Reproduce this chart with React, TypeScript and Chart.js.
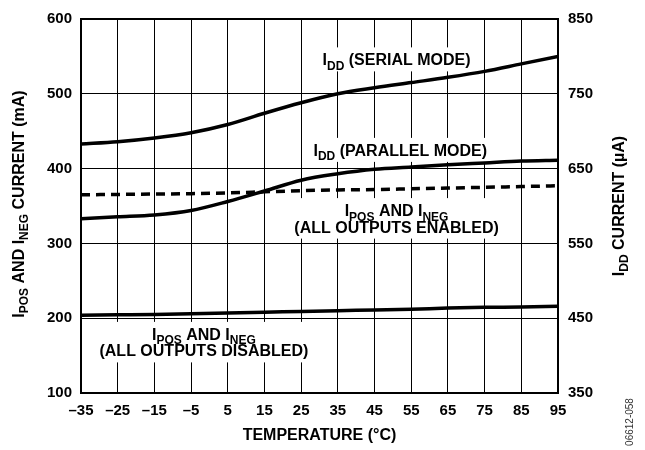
import React, { useEffect, useRef } from "react";
import { Chart, registerables } from "chart.js";
Chart.register(...registerables);

const temperatures = [-35, -25, -15, -5, 5, 15, 25, 35, 45, 55, 65, 75, 85, 95];
// µA, right axis
const iddSerial = [683, 686, 691, 698, 709, 724, 738, 750, 758, 765, 772, 780, 790, 800];
const iddParallel = [583, 585.5, 588, 594, 606, 620, 634.5, 643, 649, 652, 655, 657.5, 660, 661];
// mA, left axis
const iposEnabled = [365, 365.5, 366, 366.5, 367.5, 369, 370.5, 371.5, 372, 373, 374, 375, 376, 377];
const iposDisabled = [204, 204.5, 205, 206, 207, 208, 209, 210, 211, 212, 213.5, 214.5, 215, 216];

const FONT = '"Liberation Sans", Arial, Helvetica, sans-serif';

type Part = [string, boolean];

function richWidth(ctx: CanvasRenderingContext2D, parts: Part[], size: number) {
  let w = 0;
  for (const [t, sub] of parts) {
    ctx.font = `bold ${sub ? size * 0.75 : size}px ${FONT}`;
    w += ctx.measureText(t).width;
  }
  return w;
}

function drawRich(ctx: CanvasRenderingContext2D, parts: Part[], cx: number, baseline: number, size: number) {
  const w = richWidth(ctx, parts, size);
  let x = cx - w / 2;
  ctx.textAlign = "left";
  ctx.textBaseline = "alphabetic";
  for (const [t, sub] of parts) {
    ctx.font = `bold ${sub ? size * 0.75 : size}px ${FONT}`;
    ctx.fillText(t, x, sub ? baseline + size * 0.28 : baseline);
    x += ctx.measureText(t).width;
  }
}

type Label = { t: number; v: number; lines: Part[][] };
const ANN_SIZE = 16;
const LINE_GAP = 16.5;
const labels: Label[] = [
  { t: 51, v: 538, lines: [[["I", false], ["DD", true], [" (SERIAL MODE)", false]]] },
  { t: 52, v: 417, lines: [[["I", false], ["DD", true], [" (PARALLEL MODE)", false]]] },
  {
    t: 51,
    v: 336.5,
    lines: [
      [["I", false], ["POS", true], [" AND I", false], ["NEG", true]],
      [["(ALL OUTPUTS ENABLED)", false]],
    ],
  },
  {
    t: -1.5,
    v: 171,
    lines: [
      [["I", false], ["POS", true], [" AND I", false], ["NEG", true]],
      [["(ALL OUTPUTS DISABLED)", false]],
    ],
  },
];

const annotPlugin = {
  id: "annot",
  beforeDatasetsDraw(chart: any) {
    const ctx = chart.ctx as CanvasRenderingContext2D;
    const xs = chart.scales.x;
    const ys = chart.scales.y;
    ctx.save();
    ctx.fillStyle = "#fff";
    for (const l of labels) {
      const cx = xs.getPixelForValue(l.t);
      const by = ys.getPixelForValue(l.v);
      let w = 0;
      for (const p of l.lines) w = Math.max(w, richWidth(ctx, p, ANN_SIZE));
      const top = by - ANN_SIZE * 0.75 - 6;
      const bottom = by + (l.lines.length - 1) * LINE_GAP + 6;
      ctx.fillRect(cx - w / 2 - 4, top, w + 8, bottom - top);
    }
    ctx.restore();
  },
  afterDatasetsDraw(chart: any) {
    const ctx = chart.ctx as CanvasRenderingContext2D;
    const xs = chart.scales.x;
    const ys = chart.scales.y;
    const ca = chart.chartArea;
    ctx.save();
    ctx.fillStyle = "#000";
    for (const l of labels) {
      const cx = xs.getPixelForValue(l.t);
      const by = ys.getPixelForValue(l.v);
      l.lines.forEach((p, i) => drawRich(ctx, p, cx, by + i * LINE_GAP, ANN_SIZE));
    }
    // frame
    ctx.strokeStyle = "#000";
    ctx.lineWidth = 2;
    ctx.strokeRect(ca.left, ca.top, ca.right - ca.left, ca.bottom - ca.top);

    // axis titles
    const midY = (ca.top + ca.bottom) / 2;
    ctx.save();
    ctx.translate(19, midY - 2);
    ctx.rotate(-Math.PI / 2);
    drawRich(
      ctx,
      [["I", false], ["POS", true], [" AND I", false], ["NEG", true], [" CURRENT (mA)", false]],
      0,
      5,
      16
    );
    ctx.restore();

    ctx.save();
    ctx.translate(619, midY);
    ctx.rotate(-Math.PI / 2);
    drawRich(ctx, [["I", false], ["DD", true], [" CURRENT (µA)", false]], 0, 5, 16);
    ctx.restore();

    ctx.save();
    ctx.translate(633, 422);
    ctx.rotate(-Math.PI / 2);
    ctx.font = `10px ${FONT}`;
    ctx.fillStyle = "#333";
    ctx.textAlign = "center";
    ctx.textBaseline = "alphabetic";
    ctx.fillText("06612-058", 0, 0);
    ctx.restore();

    ctx.restore();
  },
};

export default function App() {
  const ref = useRef<HTMLCanvasElement>(null);
  useEffect(() => {
    const mk = (vals: number[]) => temperatures.map((t, i) => ({ x: t, y: vals[i] }));
    const line = (data: any, axis: string, dash: number[] = []) => ({
      data,
      yAxisID: axis,
      borderColor: "#000",
      borderWidth: 3.5,
      borderDash: dash,
      pointRadius: 0,
      tension: 0.4,
      cubicInterpolationMode: "monotone",
      fill: false,
    });
    const tickFont = { family: FONT, size: 15, weight: "bold" as const };
    const chart = new Chart(ref.current!, {
      type: "line",
      data: {
        datasets: [
          line(mk(iddSerial), "y2"),
          line(mk(iddParallel), "y2"),
          line(mk(iposEnabled), "y", [9, 6]),
          line(mk(iposDisabled), "y"),
        ] as any,
      },
      options: {
        animation: false,
        responsive: false,
        layout: { padding: { top: 13, left: 0, right: 0, bottom: 0 } },
        plugins: { legend: { display: false }, tooltip: { enabled: false } },
        scales: {
          x: {
            type: "linear",
            min: -35,
            max: 95,
            ticks: {
              stepSize: 10,
              color: "#000",
              font: tickFont,
              padding: 9,
              maxRotation: 0,
              callback: (v: any) => String(v).replace("-", "\u2013"),
            },
            grid: { color: "#000", lineWidth: 1, drawTicks: false },
            border: { display: false },
            title: {
              display: true,
              text: "TEMPERATURE (°C)",
              color: "#000",
              font: { family: FONT, size: 16, weight: "bold" },
              padding: { top: 2, bottom: 5 },
            },
            afterFit: (s: any) => {
              s.height = 57;
            },
          },
          y: {
            position: "left",
            min: 100,
            max: 600,
            ticks: { stepSize: 100, color: "#000", font: tickFont, padding: 9 },
            grid: { color: "#000", lineWidth: 1, drawTicks: false },
            border: { display: false },
            afterFit: (s: any) => {
              s.width = 81;
            },
          },
          y2: {
            position: "right",
            min: 350,
            max: 850,
            ticks: { stepSize: 100, color: "#000", font: tickFont, padding: 10 },
            grid: { display: false, drawTicks: false },
            border: { display: false },
            afterFit: (s: any) => {
              s.width = 87;
            },
          },
        },
      } as any,
      plugins: [annotPlugin],
    });
    return () => chart.destroy();
  }, []);
  return (
    <div style={{ position: "absolute", left: 0, top: 0, width: 645, height: 450, background: "#fff" }}>
      <canvas ref={ref} width={645} height={450} style={{ display: "block" }} />
    </div>
  );
}
